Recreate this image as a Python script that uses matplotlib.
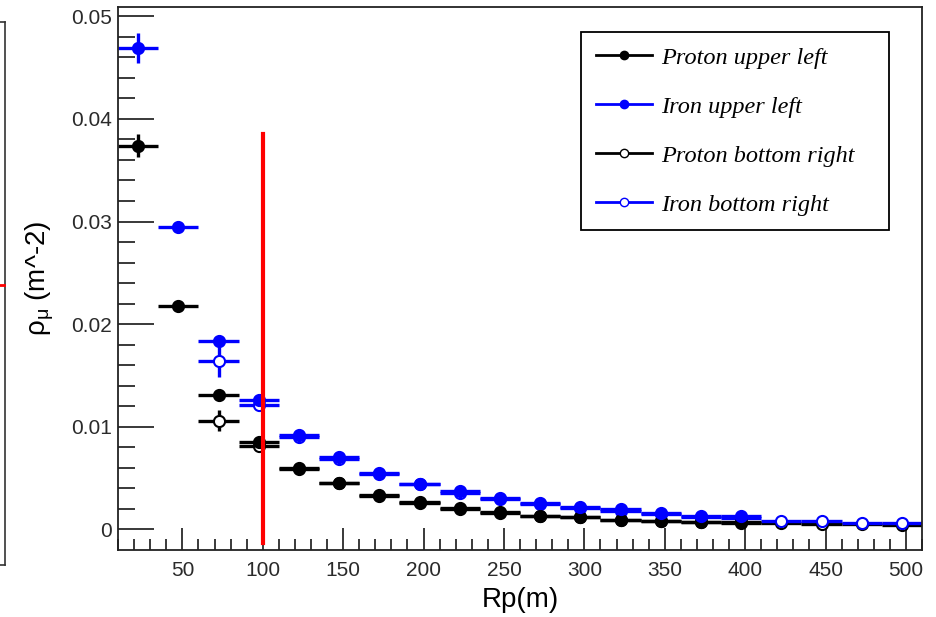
import numpy as np
import matplotlib.pyplot as plt
from matplotlib.lines import Line2D

# bins of 25 m from 10 to 510
rp = np.arange(22.5, 510, 25)

# upper-left samples (bins 1-16)
proton_ul = [0.0374, 0.0218, 0.0131, 0.0085, 0.0060, 0.00457, 0.0034, 0.00266,
             0.0021, 0.0017, 0.00136, 0.00123, 0.00095, 0.0008, 0.0007, 0.0007]
proton_ul_err = [0.0011, 0.0003, 0.0003, 0.0003, 0.0002, 0.0002, 0.0001, 0.0001,
                 0.0001, 0.0001, 0.0001, 0.0001, 0.0001, 0.0001, 0.0001, 0.0001]
iron_ul = [0.0469, 0.0295, 0.0184, 0.01265, 0.0092, 0.00707, 0.0055, 0.00447,
           0.00373, 0.00308, 0.0026, 0.0022, 0.00195, 0.0016, 0.0013, 0.0013]
iron_ul_err = [0.0015, 0.0004, 0.0004, 0.0003, 0.0002, 0.0002, 0.0001, 0.0001,
               0.0001, 0.0001, 0.0001, 0.0001, 0.0001, 0.0001, 0.0001, 0.0001]

# bottom-right samples (bins 3-20)
proton_br = [0.0106, 0.0081, 0.0059, 0.0045, 0.0033, 0.0026, 0.0020, 0.0016,
             0.0013, 0.0012, 0.0009, 0.0008, 0.0007, 0.0006, 0.0006, 0.00055,
             0.0005, 0.00045]
proton_br_err = [0.0010, 0.0003, 0.0002, 0.0002, 0.0001, 0.0001, 0.0001, 0.0001,
                 0.0001, 0.0001, 0.0001, 0.0001, 0.0001, 0.0001, 0.0001, 0.0001,
                 0.0001, 0.0001]
iron_br = [0.0164, 0.0121, 0.0090, 0.0069, 0.0054, 0.0044, 0.0036, 0.0030,
           0.0025, 0.0021, 0.0018, 0.0015, 0.0012, 0.0011, 0.0008, 0.0008,
           0.00065, 0.0006]
iron_br_err = [0.0015, 0.0004, 0.0003, 0.0002, 0.0002, 0.0001, 0.0001, 0.0001,
               0.0001, 0.0001, 0.0001, 0.0001, 0.0001, 0.0001, 0.0001, 0.0001,
               0.0001, 0.0001]

labels = ['Proton upper left', 'Iron upper left', 'Proton bottom right', 'Iron bottom right']

plt.rcParams['font.family'] = ['Liberation Sans', 'DejaVu Sans']

fig = plt.figure(figsize=(9.37, 6.17), dpi=100)
ax = fig.add_axes([0.126, 0.1086, 0.858, 0.880])

blue = '#0000ff'
kw = dict(xerr=12.5, fmt='o', ms=8, elinewidth=2.4, capsize=0, mew=1.5)

ax.errorbar(rp[2:], proton_br, yerr=proton_br_err, color='black', mfc='white', **kw)
ax.errorbar(rp[2:], iron_br, yerr=iron_br_err, color=blue, mfc='white', **kw)
ax.errorbar(rp[:16], proton_ul, yerr=proton_ul_err, color='black', **kw)
ax.errorbar(rp[:16], iron_ul, yerr=iron_ul_err, color=blue, **kw)

# marker line at 100 m
ax.plot([100, 100], [-0.0013, 0.0385], color='red', lw=3, zorder=5)

ax.set_xlim(10, 510)
ax.set_ylim(-0.002, 0.0509)
ax.set_xticks(np.arange(50, 501, 50))
ax.set_xticks(np.arange(10, 511, 10), minor=True)
ax.set_yticks(np.arange(0, 0.051, 0.01))
ax.set_yticks(np.arange(0, 0.051, 0.002), minor=True)
ax.set_yticklabels(['0', '0.01', '0.02', '0.03', '0.04', '0.05'])
ax.tick_params(axis='both', which='both', direction='in', labelsize=15, colors='#2a2a2a')
ax.tick_params(axis='y', which='major', length=26, width=1.3, pad=4.5)
ax.tick_params(axis='y', which='minor', length=12, width=1.3)
ax.tick_params(axis='x', which='major', length=16, width=1.3, pad=8)
ax.tick_params(axis='x', which='minor', length=8, width=1.3)
for s in ax.spines.values():
    s.set_linewidth(1.3)
    s.set_color('#222222')

ax.set_xlabel('Rp(m)', fontsize=20, labelpad=5)
ax.set_ylabel(r'$\mathregular{\rho_{\mu}}$ (m^-2)', fontsize=20, labelpad=11)

handles = [
    Line2D([], [], color='black', marker='o', ms=6, lw=2),
    Line2D([], [], color=blue, marker='o', ms=6, lw=2),
    Line2D([], [], color='black', marker='o', ms=6, mfc='white', lw=2),
    Line2D([], [], color=blue, marker='o', ms=6, mfc='white', lw=2),
]
# legend box spans 581..889 px across, 32..232 px down
leg = ax.legend(handles, labels, loc='upper left',
                bbox_to_anchor=(0.576, 0.586, 0.383, 0.368), mode='expand',
                prop={'family': 'Liberation Serif', 'style': 'italic', 'size': 17.5},
                frameon=True, fancybox=False, edgecolor='black', framealpha=1,
                labelspacing=1.11, handlelength=2.3, handletextpad=0.4,
                borderpad=0.6, borderaxespad=0)
leg.get_frame().set_linewidth(1.3)

# edge of the neighbouring panel on the left
fig.add_artist(Line2D([5 / 937, 5 / 937], [1 - 22 / 617, 1 - 565 / 617], color='#333333', lw=1.2))
fig.add_artist(Line2D([0, 5 / 937], [1 - 22 / 617, 1 - 22 / 617], color='#333333', lw=1.2))
fig.add_artist(Line2D([0, 5 / 937], [1 - 565 / 617, 1 - 565 / 617], color='#333333', lw=1.2))
fig.add_artist(Line2D([0, 4 / 937], [1 - 285 / 617, 1 - 285 / 617], color='red', lw=2))

fig.savefig('out.png', dpi=100)
